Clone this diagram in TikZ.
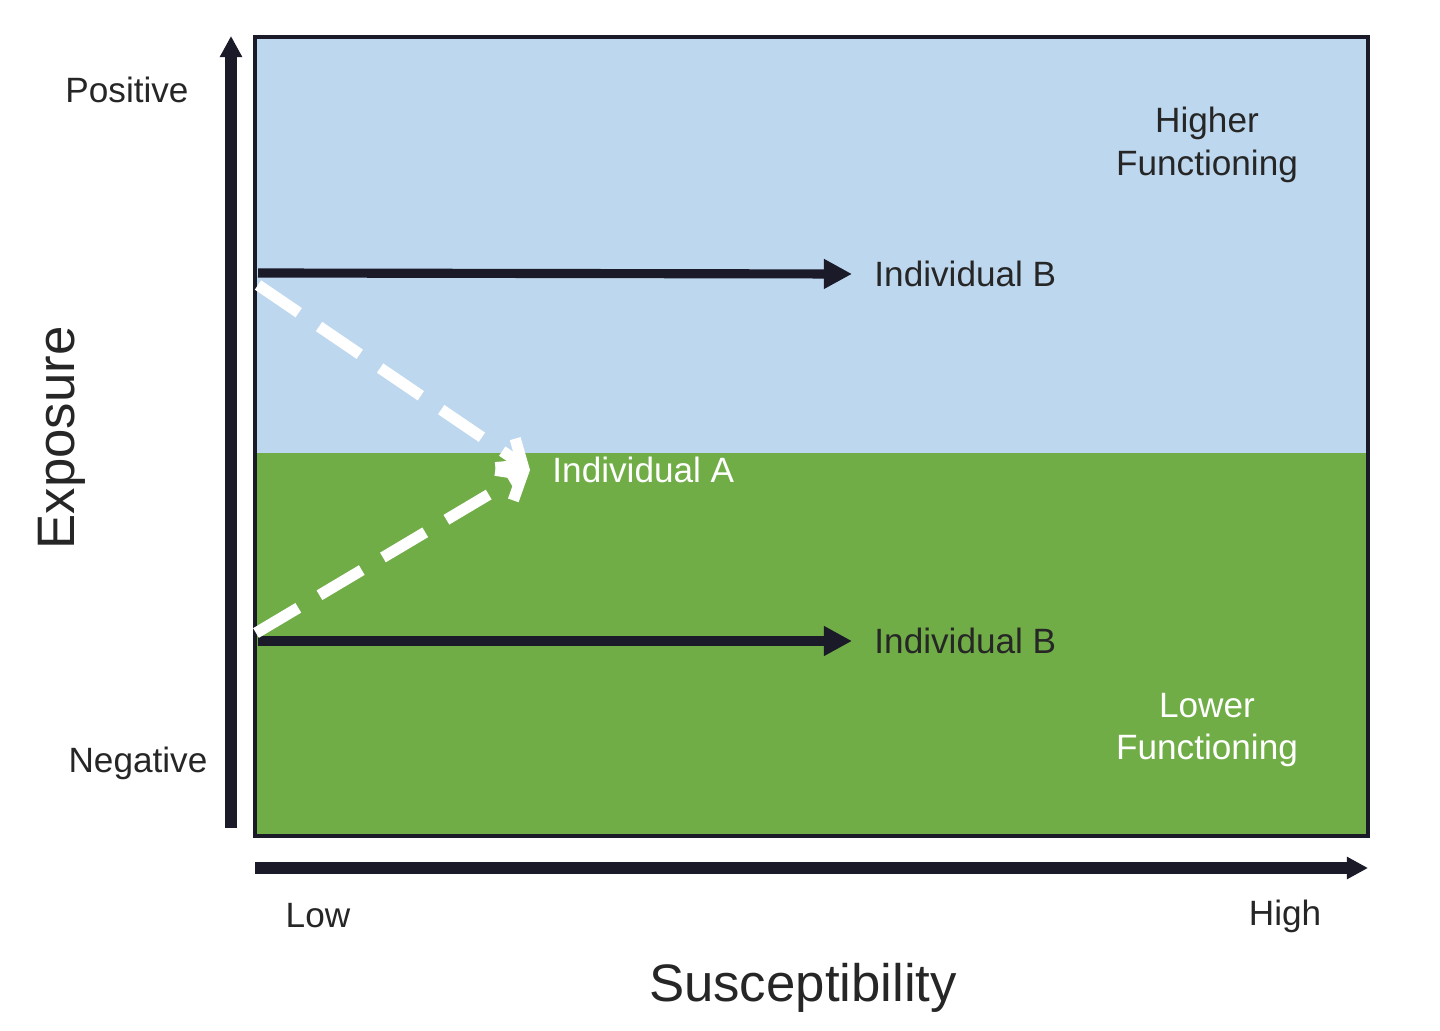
\documentclass[tikz,border=0pt]{standalone}
\usepackage{fontspec}
\setmainfont{Liberation Sans}
\usetikzlibrary{arrows.meta}
\definecolor{bluebg}{HTML}{BDD7EE}
\definecolor{greenbg}{HTML}{70AD47}
\definecolor{axis}{HTML}{1A1A28}
\tikzset{
  lbl/.style={font=\fontsize{10}{12}\selectfont, text=black!85, align=center},
  wlbl/.style={lbl, text=white},
  blk/.style={line width=2.6pt, axis, -{Triangle[length=8pt,width=8pt]}},
  wdash/.style={line width=3.2pt, white, dash pattern=on 14pt off 7pt, -{Straight Barb[length=6pt,width=10pt]}},
  ax/.style={line width=3.2pt, axis, -{Triangle[length=6pt,width=6pt]}}
}
\begin{document}
\begin{tikzpicture}[x=0.01cm,y=-0.01cm]
\useasboundingbox (0,0) rectangle (1440,1031);
\fill[bluebg] (255,37) rectangle (1368,453);
\fill[greenbg] (255,453) rectangle (1368,836);
\draw[line width=1.2pt, axis] (255,37) rectangle (1368,836);
\coordinate (vs) at (231,828); \coordinate (ve) at (231,36);
\draw[ax] (vs) -- (ve);
\coordinate (hs) at (255,868); \coordinate (he) at (1368,868);
\draw[ax] (hs) -- (he);
\node[lbl] (pos) at (127,90) {Positive};
\node[lbl] (neg) at (138,763) {Negative};
\node[lbl] (low) at (318,916) {Low};
\node[lbl] (high) at (1285,916) {High};
\node[lbl, font=\fontsize{15}{18}\selectfont] (sus) at (803,988) {Susceptibility};
\node[lbl, font=\fontsize{15}{18}\selectfont, rotate=90] (exp) at (62,438) {Exposure};
\node[lbl, font=\fontsize{10}{12}\selectfont] (hf) at (1207,145) {Higher\\Functioning};
\node[wlbl, font=\fontsize{10}{12}\selectfont] (lf) at (1207,730) {Lower\\Functioning};
\node[lbl, anchor=west] (b1) at (862,274) {Individual B};
\node[lbl, anchor=west] (b2) at (862,641) {Individual B};
\node[wlbl, anchor=west] (a) at (540,470) {Individual A};
\coordinate (b1s) at (258,273); \coordinate (b2s) at (258,641);
\coordinate (a1s) at (258,285); \coordinate (a2s) at (256,633);
\coordinate (ae) at (530,470);
\draw[blk] (b1s) -- ([xshift=-0.1cm]b1.west);
\draw[blk] (b2s) -- ([xshift=-0.1cm]b2.west);
\draw[wdash] (a1s) -- (ae);
\draw[wdash] (a2s) -- (ae);
\end{tikzpicture}
\end{document}
